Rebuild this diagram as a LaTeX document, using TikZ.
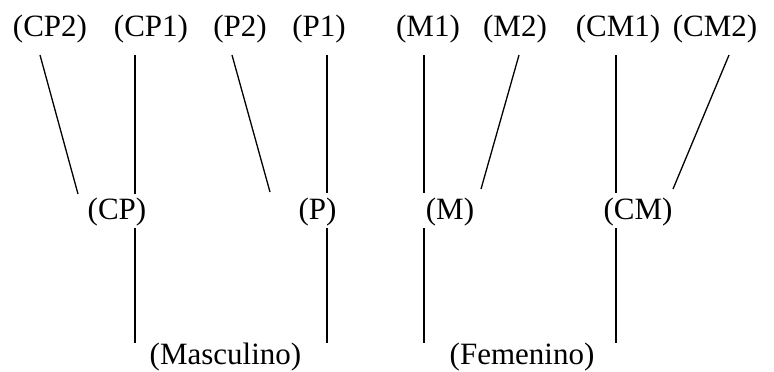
\documentclass[tikz,border=0pt]{standalone}
\usepackage{fontspec}
\setmainfont{Liberation Serif}
\usetikzlibrary{calc}

\begin{document}
\begin{tikzpicture}[x=0.5pt, y=-0.5pt, line width=0.65pt,
	lbl/.style={anchor=base, inner sep=0pt, font=\fontsize{15.5}{18}\selectfont}]
	\useasboundingbox (0,0) rectangle (774,371);
	% top row
	\node [lbl] (cp2) at (50,36.5) {(CP2)};
	\node [lbl] (cp1) at (151,36.5) {(CP1)};
	\node [lbl] (p2) at (240,36.5) {(P2)};
	\node [lbl] (p1) at (319,36.5) {(P1)};
	\node [lbl] (m1) at (428,36.5) {(M1)};
	\node [lbl] (m2) at (515,36.5) {(M2)};
	\node [lbl] (cm1) at (618,36.5) {(CM1)};
	\node [lbl] (cm2) at (715,36.5) {(CM2)};
	% middle row
	\node [lbl] (cp) at (117,219.5) {(CP)};
	\node [lbl] (p) at (317.5,219.5) {(P)};
	\node [lbl] (m) at (450,219.5) {(M)};
	\node [lbl] (cm) at (638,219.5) {(CM)};
	% bottom row
	\node [lbl] (masc) at (225.5,364.5) {(Masculino)};
	\node [lbl] (fem) at (522,364.5) {(Femenino)};
	% upper lines
	\draw ($(cp2.base)+(-10,18.5)$) -- ($(cp.base)+(-39,-25.5)$);
	\draw ($(cp1.base)+(-16,18.5)$) -- ($(cp.base)+(18,-25.5)$);
	\draw ($(p2.base)+(-8,18.5)$) -- ($(p.base)+(-47.5,-27.5)$);
	\draw ($(p1.base)+(8,18.5)$) -- ($(p.base)+(9.5,-26.5)$);
	\draw ($(m1.base)+(-4,18.5)$) -- ($(m.base)+(-26,-26.5)$);
	\draw ($(m2.base)+(4,18.5)$) -- ($(m.base)+(31,-30.5)$);
	\draw ($(cm1.base)+(-2,18.5)$) -- ($(cm.base)+(-22,-26.5)$);
	\draw ($(cm2.base)+(14,18.5)$) -- ($(cm.base)+(35,-30.5)$);
	% lower lines
	\draw ($(cp.base)+(18,8.5)$) -- ($(masc.base)+(-90.5,-21.5)$);
	\draw ($(p.base)+(9.5,8.5)$) -- ($(masc.base)+(101.5,-21.5)$);
	\draw ($(m.base)+(-26,8.5)$) -- ($(fem.base)+(-98,-21.5)$);
	\draw ($(cm.base)+(-22,8.5)$) -- ($(fem.base)+(94,-21.5)$);
\end{tikzpicture}
\end{document}
